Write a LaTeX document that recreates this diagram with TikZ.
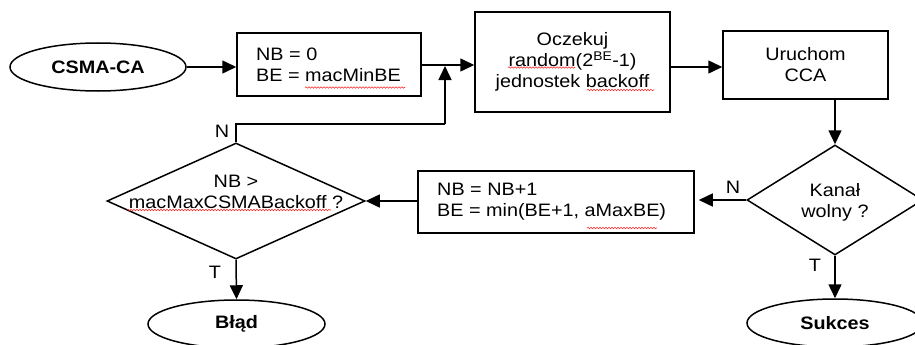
\documentclass[tikz,border=0pt]{standalone}
\usepackage{fontspec}
\setmainfont{Liberation Sans}[FakeStretch=1.1]
\usetikzlibrary{shapes.geometric,arrows.meta,decorations.pathmorphing}
\begin{document}
\begin{tikzpicture}[x=1pt,y=-1pt,
  every node/.style={font=\fontsize{18}{21}\selectfont, inner sep=0pt},
  box/.style={draw, line width=1.5pt, rectangle},
  term/.style={draw, line width=1.5pt, ellipse, minimum width=177pt, minimum height=48pt, font=\fontsize{18}{21}\selectfont\bfseries},
  dec/.style={draw, line width=1.5pt, diamond},
  conn/.style={line width=1.5pt, -{Triangle[length=14pt,width=13pt]}},
  line/.style={line width=1.5pt},
  lbl/.style={font=\fontsize{18}{21}\selectfont},
  spell/.style={red!85!white, line width=0.6pt, decorate, decoration={snake, amplitude=0.7pt, segment length=3pt}}
]
\useasboundingbox (0,0) rectangle (915,345);
\clip (0,0) rectangle (915,345);
\fill[white] (0,0) rectangle (915,345);

\node[term, minimum width=176pt] (csma) at (98,67) {CSMA-CA};
\node[box, minimum width=184pt, minimum height=63pt] (init) at (329,64.5) {};
\node[align=left, anchor=west] (initt) at (256,64.5) {NB = 0\\BE = macMinBE};
\node[box, minimum width=195pt, minimum height=100pt, align=center] (wait) at (572.5,62) {Oczekuj\\random(2\textsuperscript{BE}-1)\\jednostek backoff};
\node[box, minimum width=165pt, minimum height=68pt, align=center] (cca) at (805.5,65) {Uruchom\\CCA};
\node[dec, minimum width=176pt, minimum height=110pt] (free) at (835,200) {};
\node[align=center] (freet) at (835,202) {Kanał\\wolny ?};
\node[box, minimum width=276pt, minimum height=62pt] (upd) at (556,202) {};
\node[align=left, anchor=west] (updt) at (437,202) {NB = NB+1\\BE = min(BE+1, aMaxBE)};
\node[dec, minimum width=258pt, minimum height=116pt] (check) at (236,201) {};
\node[align=center] (checkt) at (236,192) {NB >\\macMaxCSMABackoff ?};
\node[term] (fail) at (236.5,324) {Błąd};
\node[term, minimum width=176pt] (succ) at (835,323) {Sukces};

\coordinate (jn) at (445,65);
\coordinate (fb) at (445,124);

\draw[conn] (csma.east) -- (init.west |- csma.east);
\draw[line] (init.east |- jn) -- (jn);
\draw[conn] (jn) -- (wait.west |- jn);
\draw[line] (check.north) |- (fb);
\draw[conn] (fb) -- ([yshift=-1pt]jn);
\draw[conn] (wait.east |- 0,67) -- (cca.west |- 0,67);
\draw[conn] (cca.south -| free.north) -- (free.north);
\draw[conn, shorten >=4pt] (free.west) -- (upd.east |- free.west);
\draw[conn] (upd.west |- check.east) -- (check.east);
\draw[conn] (check.south) -- (fail.north);
\draw[conn] (free.south) -- (succ.north);

\node[lbl] (n1) at (222,131) {N};
\node[lbl] (t1) at (215,272) {T};
\node[lbl] (n2) at (733,187) {N};
\node[lbl] (t2) at (815,265) {T};

% spell-check underlines
\draw[spell] (305,87.5) -- (405,87.5);
\draw[spell] (508,67.5) -- (575,67.5);
\draw[spell] (587,90) -- (654,90);
\draw[spell] (127,210) -- (331,210);
\draw[spell] (587,228) -- (657,228);
\end{tikzpicture}
\end{document}
